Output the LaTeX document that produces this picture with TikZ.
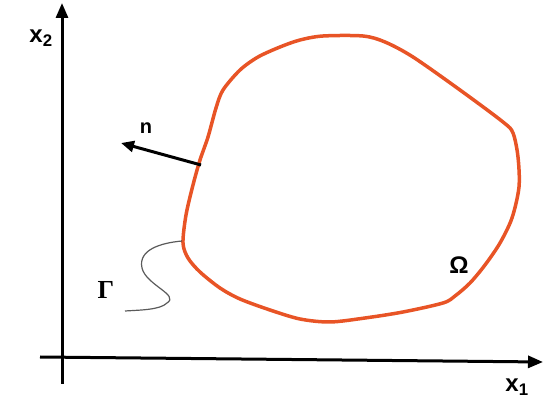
\documentclass[tikz,border=0pt]{standalone}
\usepackage{fontspec}
\setsansfont{Liberation Sans}
\newfontfamily\greekserif{Liberation Serif}
\usetikzlibrary{arrows.meta}
\definecolor{boundary}{RGB}{232,84,38}
\definecolor{gammac}{RGB}{90,90,90}
\tikzset{
  axis/.style={line width=3pt,-{Triangle[length=15pt,width=12pt]}},
  lab/.style={font=\fontsize{24}{26}\selectfont\sffamily\bfseries,inner sep=0pt},
  nlab/.style={font=\fontsize{20}{22}\selectfont\sffamily\bfseries,inner sep=0pt},
  gammalab/.style={font=\fontsize{26}{28}\selectfont\greekserif\bfseries,inner sep=0pt},
  omegalab/.style={font=\fontsize{24}{26}\selectfont\sffamily\bfseries,inner sep=0pt},
}
\begin{document}
\begin{tikzpicture}[x=1pt,y=-1pt]
\useasboundingbox (0,0) rectangle (550,406);
% axes
\coordinate (vb) at (62,384);
\coordinate (vt) at (62,3);
\coordinate (hl) at (40,357);
\coordinate (hr) at (543,362);
\draw[axis] (vb) -- (vt);
\draw[axis] (hl) -- (hr);
\node[lab] (x2) at (41,38) {x\textsubscript{2}};
\node[lab] (x1) at (517,387) {x\textsubscript{1}};
% domain boundary
\draw[boundary,line width=3.5pt] plot[smooth cycle,tension=0.5] coordinates {
 (183,243) (186,215) (193,185) (200,160) (208,137) (216,108) (223,90) (240,70)
 (258,57) (280,47) (300,40) (323,36) (363,36) (385,42) (413,57) (460,90)
 (503,122) (513,133) (518,157) (519,187) (512,218) (500,243) (485,265)
 (470,283) (455,296) (443,303) (403,312) (365,318) (330,322) (300,319)
 (270,310) (240,299) (220,288) (200,272) (188,258)};
% normal
\coordinate (np) at (201,165);
\coordinate (nt) at (121,143);
\draw[line width=3pt,-{Triangle[length=13pt,width=11pt]}] (np) -- (nt);
\node[nlab] (n) at (146,128) {n};
% Gamma
\coordinate (g0) at (182,241);
\draw[gammac,line width=1.2pt] (g0) .. controls (160,243) and (138,250) .. (142,268)
  .. controls (146,285) and (180,295) .. (167,303)
  .. controls (160,310) and (140,310) .. (125,311);
\node[gammalab] (G) at (106,290) {Γ};
\node[omegalab] (O) at (459,265) {Ω};
\end{tikzpicture}
\end{document}
